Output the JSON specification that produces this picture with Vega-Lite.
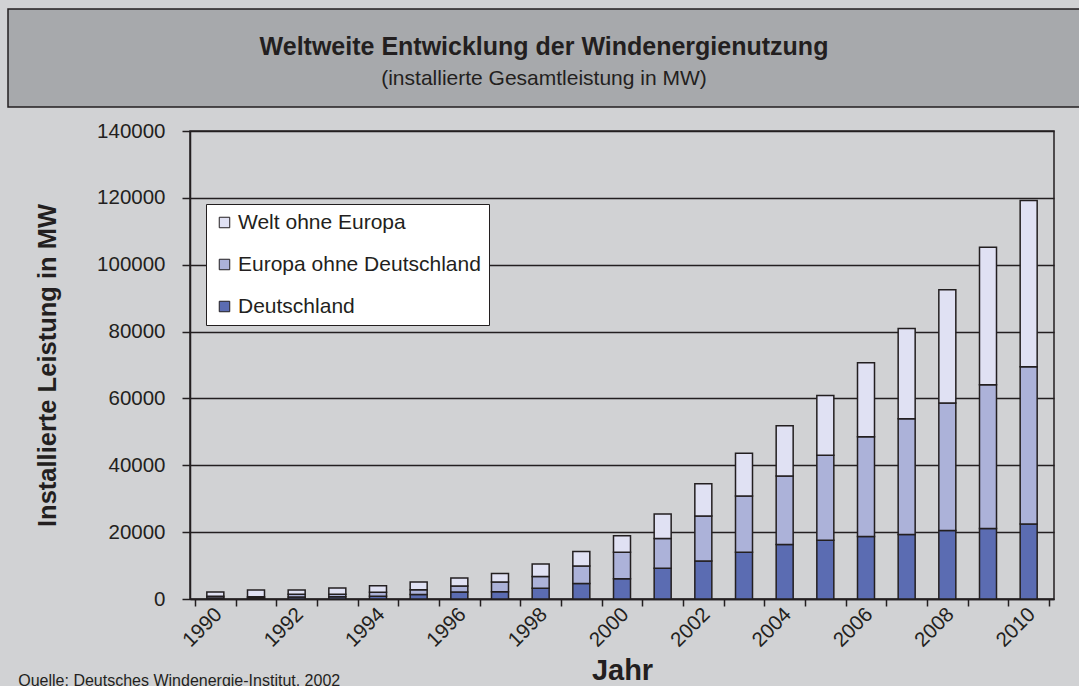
{
  "$schema": "https://vega.github.io/schema/vega-lite/v6.json",
  "background": "#d1d2d4",
  "padding": {"left": 7, "top": 8, "right": 0, "bottom": 0},
  "spacing": 12,
  "resolve": {"legend": {"color": "independent"}, "scale": {"color": "independent"}},
  "config": {
    "font": "Liberation Sans",
    "view": {"stroke": null},
    "axis": {"labelColor": "#231f20", "titleColor": "#231f20", "domainColor": "#231f20", "tickColor": "#231f20", "gridColor": "#231f20", "labelFont": "Liberation Sans", "titleFont": "Liberation Sans"}
  },
  "title": {"text": "Quelle: Deutsches Windenergie-Institut, 2002", "orient": "bottom", "anchor": "start", "frame": "bounds", "dx": 11, "offset": -13, "fontSize": 16, "fontWeight": "normal", "font": "Liberation Sans", "color": "#231f20"},
  "vconcat": [
    {
      "width": 1072,
      "height": 98,
      "view": {"fill": "#a7a9ac", "stroke": "#231f20", "strokeWidth": 1.5},
      "data": {"values": [
        {"Zeile": "1", "Text": "Weltweite Entwicklung der Windenergienutzung"},
        {"Zeile": "2", "Text": "(installierte Gesamtleistung in MW)"}
      ]},
      "layer": [
        {
          "transform": [{"filter": "datum.Zeile == '1'"}],
          "mark": {"type": "text", "font": "Liberation Sans", "fontSize": 25, "fontWeight": "bold", "baseline": "alphabetic", "dy": 3, "color": "#231f20"},
          "encoding": {
            "y": {"field": "Zeile", "type": "ordinal", "axis": null, "scale": {"type": "point", "domain": ["1", "2"], "padding": 1.46, "align": 0.66}},
            "text": {"field": "Text"}
          }
        },
        {
          "transform": [{"filter": "datum.Zeile == '2'"}],
          "mark": {"type": "text", "font": "Liberation Sans", "fontSize": 21, "fontWeight": "normal", "baseline": "alphabetic", "color": "#231f20"},
          "encoding": {
            "y": {"field": "Zeile", "type": "ordinal", "axis": null, "scale": {"type": "point", "domain": ["1", "2"], "padding": 1.46, "align": 0.66}},
            "text": {"field": "Text"}
          }
        }
      ]
    },
    {
      "spacing": 25,
      "resolve": {"legend": {"color": "independent"}, "scale": {"color": "independent"}},
      "hconcat": [
        {
          "width": 1,
          "height": 1,
          "data": {"values": []},
          "mark": {"type": "point", "opacity": 0},
          "encoding": {}
        },
        {
          "width": 864,
          "height": 468,
          "view": {"stroke": "#231f20", "strokeWidth": 1.5},
          "data": {"values": [
            {"Jahr": 1990, "Region": "Deutschland", "MW": 300},
            {"Jahr": 1990, "Region": "Europa ohne Deutschland", "MW": 500},
            {"Jahr": 1990, "Region": "Welt ohne Europa", "MW": 1300},
            {"Jahr": 1991, "Region": "Deutschland", "MW": 300},
            {"Jahr": 1991, "Region": "Europa ohne Deutschland", "MW": 400},
            {"Jahr": 1991, "Region": "Welt ohne Europa", "MW": 2000},
            {"Jahr": 1992, "Region": "Deutschland", "MW": 600},
            {"Jahr": 1992, "Region": "Europa ohne Deutschland", "MW": 800},
            {"Jahr": 1992, "Region": "Welt ohne Europa", "MW": 1300},
            {"Jahr": 1993, "Region": "Deutschland", "MW": 700},
            {"Jahr": 1993, "Region": "Europa ohne Deutschland", "MW": 700},
            {"Jahr": 1993, "Region": "Welt ohne Europa", "MW": 1900},
            {"Jahr": 1994, "Region": "Deutschland", "MW": 850},
            {"Jahr": 1994, "Region": "Europa ohne Deutschland", "MW": 1200},
            {"Jahr": 1994, "Region": "Welt ohne Europa", "MW": 1950},
            {"Jahr": 1995, "Region": "Deutschland", "MW": 1350},
            {"Jahr": 1995, "Region": "Europa ohne Deutschland", "MW": 1450},
            {"Jahr": 1995, "Region": "Welt ohne Europa", "MW": 2300},
            {"Jahr": 1996, "Region": "Deutschland", "MW": 2100},
            {"Jahr": 1996, "Region": "Europa ohne Deutschland", "MW": 1800},
            {"Jahr": 1996, "Region": "Welt ohne Europa", "MW": 2350},
            {"Jahr": 1997, "Region": "Deutschland", "MW": 2150},
            {"Jahr": 1997, "Region": "Europa ohne Deutschland", "MW": 2900},
            {"Jahr": 1997, "Region": "Welt ohne Europa", "MW": 2600},
            {"Jahr": 1998, "Region": "Deutschland", "MW": 3250},
            {"Jahr": 1998, "Region": "Europa ohne Deutschland", "MW": 3500},
            {"Jahr": 1998, "Region": "Welt ohne Europa", "MW": 3750},
            {"Jahr": 1999, "Region": "Deutschland", "MW": 4600},
            {"Jahr": 1999, "Region": "Europa ohne Deutschland", "MW": 5250},
            {"Jahr": 1999, "Region": "Welt ohne Europa", "MW": 4350},
            {"Jahr": 2000, "Region": "Deutschland", "MW": 6050},
            {"Jahr": 2000, "Region": "Europa ohne Deutschland", "MW": 7950},
            {"Jahr": 2000, "Region": "Welt ohne Europa", "MW": 4900},
            {"Jahr": 2001, "Region": "Deutschland", "MW": 9200},
            {"Jahr": 2001, "Region": "Europa ohne Deutschland", "MW": 8900},
            {"Jahr": 2001, "Region": "Welt ohne Europa", "MW": 7300},
            {"Jahr": 2002, "Region": "Deutschland", "MW": 11400},
            {"Jahr": 2002, "Region": "Europa ohne Deutschland", "MW": 13400},
            {"Jahr": 2002, "Region": "Welt ohne Europa", "MW": 9700},
            {"Jahr": 2003, "Region": "Deutschland", "MW": 14000},
            {"Jahr": 2003, "Region": "Europa ohne Deutschland", "MW": 16800},
            {"Jahr": 2003, "Region": "Welt ohne Europa", "MW": 12800},
            {"Jahr": 2004, "Region": "Deutschland", "MW": 16300},
            {"Jahr": 2004, "Region": "Europa ohne Deutschland", "MW": 20500},
            {"Jahr": 2004, "Region": "Welt ohne Europa", "MW": 15000},
            {"Jahr": 2005, "Region": "Deutschland", "MW": 17600},
            {"Jahr": 2005, "Region": "Europa ohne Deutschland", "MW": 25400},
            {"Jahr": 2005, "Region": "Welt ohne Europa", "MW": 17900},
            {"Jahr": 2006, "Region": "Deutschland", "MW": 18700},
            {"Jahr": 2006, "Region": "Europa ohne Deutschland", "MW": 29800},
            {"Jahr": 2006, "Region": "Welt ohne Europa", "MW": 22200},
            {"Jahr": 2007, "Region": "Deutschland", "MW": 19300},
            {"Jahr": 2007, "Region": "Europa ohne Deutschland", "MW": 34600},
            {"Jahr": 2007, "Region": "Welt ohne Europa", "MW": 27000},
            {"Jahr": 2008, "Region": "Deutschland", "MW": 20500},
            {"Jahr": 2008, "Region": "Europa ohne Deutschland", "MW": 38100},
            {"Jahr": 2008, "Region": "Welt ohne Europa", "MW": 33900},
            {"Jahr": 2009, "Region": "Deutschland", "MW": 21100},
            {"Jahr": 2009, "Region": "Europa ohne Deutschland", "MW": 43000},
            {"Jahr": 2009, "Region": "Welt ohne Europa", "MW": 41100},
            {"Jahr": 2010, "Region": "Deutschland", "MW": 22400},
            {"Jahr": 2010, "Region": "Europa ohne Deutschland", "MW": 47100},
            {"Jahr": 2010, "Region": "Welt ohne Europa", "MW": 49700}
          ]},
          "layer": [
            {
              "mark": {"type": "bar", "size": 17, "stroke": "#231f20", "strokeWidth": 1.5},
              "encoding": {
                "x": {
                  "field": "Jahr", "type": "quantitative",
                  "scale": {"domain": [1989.5, 2010.5], "nice": false, "zero": false},
                  "axis": {"orient": "bottom", "values": [1989.5, 1990.5, 1991.5, 1992.5, 1993.5, 1994.5, 1995.5, 1996.5, 1997.5, 1998.5, 1999.5, 2000.5, 2001.5, 2002.5, 2003.5, 2004.5, 2005.5, 2006.5, 2007.5, 2008.5, 2009.5, 2010.5], "labels": false, "ticks": true, "tickSize": 7, "tickWidth": 1.5, "domainWidth": 1.5, "grid": false, "title": null}
                },
                "y": {
                  "field": "MW", "type": "quantitative", "stack": "zero",
                  "scale": {"domain": [0, 140000], "nice": false},
                  "axis": {"values": [0, 20000, 40000, 60000, 80000, 100000, 120000, 140000], "format": "d", "grid": true, "gridWidth": 1.5, "tickSize": 8, "tickWidth": 1.5, "domainWidth": 1.5, "labelFontSize": 20.5, "labelPadding": 17, "title": "Installierte Leistung in MW", "titleFontSize": 25.5, "titleFontWeight": "bold", "titlePadding": 36}
                },
                "color": {
                  "field": "Region", "type": "nominal",
                  "scale": {"domain": ["Welt ohne Europa", "Europa ohne Deutschland", "Deutschland"], "range": ["#e0e1f3", "#acb2d9", "#5b6cb2"]},
                  "legend": {"orient": "none", "legendX": 16, "legendY": 73, "title": null, "fillColor": "#ffffff", "strokeColor": "#231f20", "padding": 8, "rowPadding": 20, "symbolType": "square", "symbolSize": 110, "symbolStrokeColor": "#231f20", "symbolStrokeWidth": 1, "labelFontSize": 21, "labelColor": "#231f20", "labelOffset": 3, "labelLimit": 500, "labelFont": "Liberation Sans"}
                },
                "order": {"field": "Region", "sort": "ascending"}
              }
            },
            {
              "mark": {"type": "tick", "opacity": 0},
              "encoding": {
                "x": {
                  "field": "Jahr", "type": "quantitative",
                  "scale": {"domain": [1989.5, 2010.5], "nice": false, "zero": false},
                  "axis": {"orient": "bottom", "values": [1990, 1992, 1994, 1996, 1998, 2000, 2002, 2004, 2006, 2008, 2010], "format": "d", "ticks": false, "domain": false, "grid": false, "labelAngle": -45, "labelAlign": "right", "labelBaseline": "middle", "labelFontSize": 20.5, "labelPadding": 12, "labelOffset": 3, "title": "Jahr", "titleFontSize": 29, "titleFontWeight": "bold", "titlePadding": 6}
                }
              }
            }
          ],
          "resolve": {"axis": {"x": "independent"}}
        }
      ]
    }
  ]
}
